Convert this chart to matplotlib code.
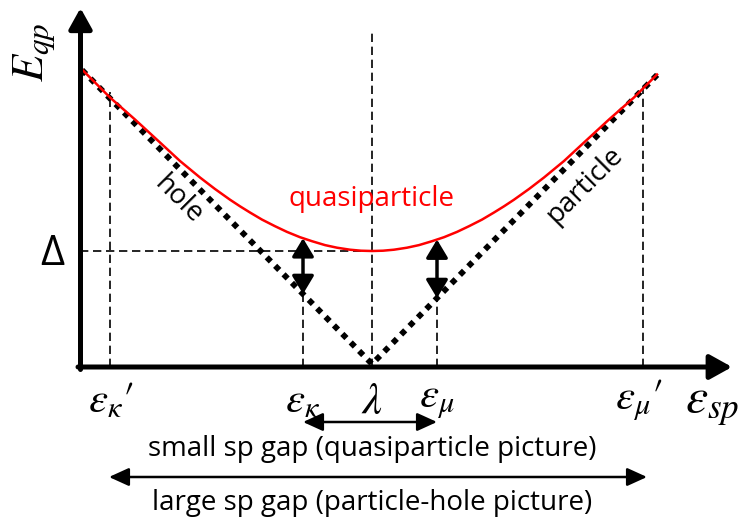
import numpy as np
import matplotlib
matplotlib.use("Agg")
import matplotlib.pyplot as plt

plt.rcParams["mathtext.fontset"] = "stix"

# Single-particle energies (relative to the Fermi level lambda) and gap
eps_kappa_p = -262
eps_kappa = -69
eps_mu = 65
eps_mu_p = 271
gap_delta = 113

# Quasiparticle branch E_qp(eps)
eps_qp = [-292, -277, -262, -237, -212, -192, -172, -157, -142, -132, -122,
          -110, -97, -85, -72, -60, -47, -35, -22, -11, 0,
          11, 22, 35, 47, 60, 72, 85, 97, 110, 122, 132, 142, 157, 172,
          192, 212, 237, 262, 285]
E_qp = [296.5, 281.5, 266.5, 244.5, 221.5, 203, 186.5, 175, 164.3, 157.7, 151.5,
        144.4, 137.8, 132.1, 126.8, 122.8, 118.9, 116.3, 114.3, 113.3, 113,
        113.3, 114.3, 116.3, 118.9, 122.8, 126.8, 132.1, 137.8, 144.4, 151.5,
        157.7, 164.3, 175, 186.5, 203, 221.5, 244.5, 266.5, 289.5]

# Particle-hole branch |eps - lambda|
eps_ph = [-290, 0, 288]
E_ph = [294, 0, 292]

TEXT_FONT = "Open Sans"

fig = plt.figure(figsize=(7.45, 5.21), dpi=100)
ax = fig.add_axes([0, 0, 1, 1])
ax.set_xlim(-372, 373)
ax.set_ylim(-157, 364)
ax.axis("off")

y_axis_x = -291.5
x_axis_y = -3

# axes with arrow heads
ax.annotate("", xy=(y_axis_x, 356), xytext=(y_axis_x, x_axis_y - 2.5),
            arrowprops=dict(arrowstyle="-|>,head_length=0.45,head_width=0.25",
                            lw=3.6, color="black", mutation_scale=28,
                            shrinkA=0, shrinkB=0))
ax.annotate("", xy=(360, x_axis_y), xytext=(y_axis_x - 2.5, x_axis_y),
            arrowprops=dict(arrowstyle="-|>,head_length=0.45,head_width=0.25",
                            lw=3.6, color="black", mutation_scale=30,
                            shrinkA=0, shrinkB=0))

dash = dict(color="black", lw=1.2, linestyle=(0, (5, 2.8)))

def v_height(e):
    return np.interp(e, eps_ph, E_ph)

def qp_height(e):
    return np.interp(e, eps_qp, E_qp)

# vertical guides
for e in (eps_kappa_p, eps_kappa, eps_mu, eps_mu_p):
    ax.plot([e, e], [x_axis_y, v_height(e) + (6 if abs(e) > 200 else 0)], **dash)
ax.plot([0, 0], [x_axis_y, 335], **dash)
# gap level
ax.plot([y_axis_x, 0], [gap_delta, gap_delta], **dash)

# particle-hole V
ax.plot(eps_ph, E_ph, color="black", lw=4.2, linestyle=(0, (1, 1.05)),
        dash_capstyle="butt", solid_joinstyle="miter")

# quasiparticle curve
ax.plot(eps_qp, E_qp, color="#ff0000", lw=1.8, solid_joinstyle="round")

# vertical double arrows between the two branches
for e in (eps_kappa, eps_mu):
    ax.annotate("", xy=(e, v_height(e)), xytext=(e, qp_height(e)),
                arrowprops=dict(arrowstyle="<|-|>,head_length=0.5,head_width=0.3",
                                lw=2.5, color="black", mutation_scale=22,
                                shrinkA=0, shrinkB=0))

# horizontal gap arrows
ax.annotate("", xy=(eps_kappa, -58), xytext=(eps_mu, -58),
            arrowprops=dict(arrowstyle="<|-|>,head_length=0.55,head_width=0.25",
                            lw=1.8, color="black", mutation_scale=22,
                            shrinkA=0, shrinkB=0))
ax.annotate("", xy=(eps_kappa_p - 1, -113), xytext=(eps_mu_p + 4, -113),
            arrowprops=dict(arrowstyle="<|-|>,head_length=0.55,head_width=0.25",
                            lw=1.8, color="black", mutation_scale=22,
                            shrinkA=0, shrinkB=0))

# labels
ax.text(-338, 312, r"$E_{qp}$", rotation=90, fontsize=32, ha="center", va="center")
ax.text(-320, gap_delta - 3, "\u0394", fontsize=30, ha="center", va="center",
        family=TEXT_FONT)

lab_y = -36
ax.text(eps_kappa_p + 1, lab_y, r"$\varepsilon_{\kappa}{\prime}$", fontsize=31,
        ha="center", va="center")
ax.text(eps_kappa, lab_y, r"$\varepsilon_{\kappa}$", fontsize=31,
        ha="center", va="center")
ax.text(0, lab_y - 2, r"$\lambda$", fontsize=32, ha="center", va="center")
ax.text(eps_mu, lab_y, r"$\varepsilon_{\mu}$", fontsize=31,
        ha="center", va="center")
ax.text(eps_mu_p - 4, lab_y, r"$\varepsilon_{\mu}{\prime}$", fontsize=31,
        ha="center", va="center")
ax.text(340, lab_y - 4, r"$\varepsilon_{sp}$", fontsize=36, ha="center", va="center")

ax.text(0, 165, "quasiparticle", color="#ff0000", fontsize=20, ha="center",
        va="center", family=TEXT_FONT)
ax.text(-194, 164, "hole", rotation=-45, fontsize=20, ha="center", va="center",
        family=TEXT_FONT, rotation_mode="anchor")
ax.text(213, 179, "particle", rotation=45, fontsize=20, ha="center", va="center",
        family=TEXT_FONT, rotation_mode="anchor")

ax.text(0, -85, "small sp gap (quasiparticle picture)", fontsize=20,
        ha="center", va="center", family=TEXT_FONT)
ax.text(0, -139, "large sp gap (particle-hole picture)", fontsize=20,
        ha="center", va="center", family=TEXT_FONT)

fig.savefig("out.png", dpi=100)
